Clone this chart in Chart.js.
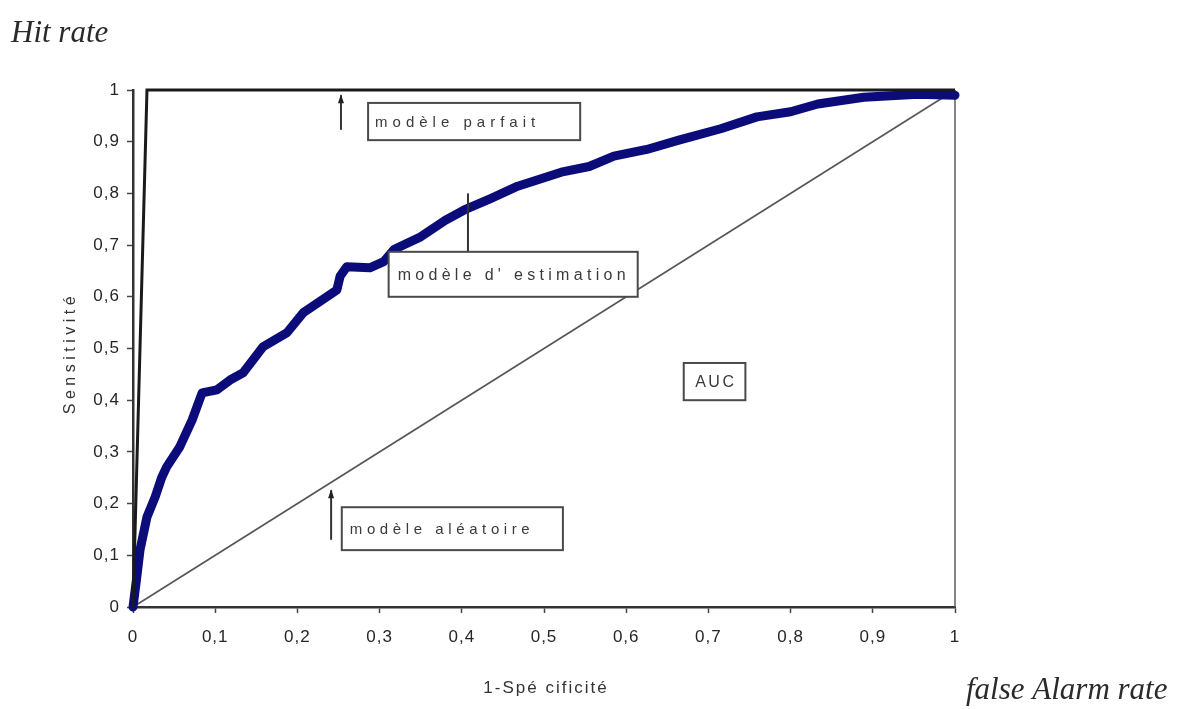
<!DOCTYPE html>
<html>
<head>
<meta charset="utf-8">
<script src="https://cdn.jsdelivr.net/npm/chart.js@4.4.1/dist/chart.umd.min.js"></script>
<style>
  html, body { margin: 0; padding: 0; background: #ffffff; }
  #wrap { position: relative; width: 1184px; height: 709px; }
  canvas { display: block; }
</style>
</head>
<body>
<div id="wrap"><canvas id="c" width="1184" height="709"></canvas></div>
<script>
// ---- data ----
const xTickValues = [0, 0.1, 0.2, 0.3, 0.4, 0.5, 0.6, 0.7, 0.8, 0.9, 1];
const yTickValues = [0, 0.1, 0.2, 0.3, 0.4, 0.5, 0.6, 0.7, 0.8, 0.9, 1];

// ROC curve of the estimation model (1-specificity, sensitivity)
const rocFpr = [0, 0.004, 0.0085, 0.017, 0.027, 0.035, 0.041, 0.057, 0.072, 0.084, 0.102, 0.118, 0.134, 0.158, 0.187, 0.207, 0.248, 0.252, 0.26, 0.288, 0.305, 0.318, 0.35, 0.38, 0.403, 0.435, 0.468, 0.521, 0.555, 0.585, 0.625, 0.664, 0.715, 0.759, 0.80, 0.833, 0.889, 0.955, 1.0];
const rocTpr = [0, 0.05, 0.11, 0.174, 0.213, 0.251, 0.271, 0.31, 0.362, 0.414, 0.42, 0.439, 0.453, 0.503, 0.53, 0.569, 0.613, 0.64, 0.658, 0.656, 0.668, 0.692, 0.716, 0.748, 0.768, 0.79, 0.814, 0.841, 0.852, 0.872, 0.885, 0.903, 0.925, 0.948, 0.958, 0.973, 0.986, 0.992, 0.99];

// perfect model
const perfectX = [0, 0.017, 1];
const perfectY = [0, 1, 1];

// random model
const randomX = [0, 1];
const randomY = [0, 1];

// right frame edge at x = 1
const edgeX = [1, 1];
const edgeY = [0, 1];

// texts
const labelPerfect = "modèle parfait";
const labelEstimation = "modèle d' estimation";
const labelRandom = "modèle aléatoire";
const labelAuc = "AUC";
const yTitle = "Sensitivité";
const xTitle = "1-Spé cificité";
const hitRate = "Hit rate";
const falseAlarm = "false Alarm rate";

const toPts = (xs, ys) => xs.map((x, i) => ({ x: x, y: ys[i] }));
const fmt = v => (Math.round(v * 10) / 10).toString().replace('.', ',');
const SANS = '"Liberation Sans", Arial, sans-serif';
const SERIF = '"Liberation Serif", "Times New Roman", serif';

// annotation boxes, in data coordinates
const boxes = [
  { text: labelPerfect,    x0: 0.286, x1: 0.544, y0: 0.903, y1: 0.975, size: 15, ls: 5.0, pad: 7 },
  { text: labelEstimation, x0: 0.311, x1: 0.614, y0: 0.600, y1: 0.687, size: 16, ls: 4.3, pad: 9 },
  { text: labelRandom,     x0: 0.254, x1: 0.523, y0: 0.110, y1: 0.193, size: 15, ls: 4.6, pad: 8 },
  { text: labelAuc,        x0: 0.670, x1: 0.745, y0: 0.400, y1: 0.472, size: 16, ls: 2.5, pad: 0, center: true }
];
// leader lines / arrows, in data coordinates
const leaders = [
  { x: 0.253, yFrom: 0.923, yTo: 0.99,  arrow: true },
  { x: 0.4075, yFrom: 0.687, yTo: 0.800, arrow: false },
  { x: 0.241, yFrom: 0.130, yTo: 0.226, arrow: true }
];

const annotPlugin = {
  id: 'annot',
  beforeDraw(chart) {
    chart.ctx.letterSpacing = '1px';
  },
  afterDatasetsDraw(chart) {
    const ctx = chart.ctx, xs = chart.scales.x, ys = chart.scales.y;
    ctx.save();
    leaders.forEach(l => {
      const px = xs.getPixelForValue(l.x);
      const pa = ys.getPixelForValue(l.yFrom), pb = ys.getPixelForValue(l.yTo);
      ctx.strokeStyle = '#333'; ctx.lineWidth = 2;
      ctx.beginPath(); ctx.moveTo(px, pa); ctx.lineTo(px, pb); ctx.stroke();
      if (l.arrow) {
        ctx.fillStyle = '#222';
        ctx.beginPath();
        ctx.moveTo(px, pb - 1); ctx.lineTo(px - 3, pb + 8); ctx.lineTo(px + 3, pb + 8);
        ctx.closePath(); ctx.fill();
      }
    });
    boxes.forEach(b => {
      const l = xs.getPixelForValue(b.x0), r = xs.getPixelForValue(b.x1);
      const t = ys.getPixelForValue(b.y1), btm = ys.getPixelForValue(b.y0);
      ctx.fillStyle = '#ffffff';
      ctx.fillRect(l, t, r - l, btm - t);
      ctx.strokeStyle = '#4a4a4a'; ctx.lineWidth = 2;
      ctx.strokeRect(l, t, r - l, btm - t);
      ctx.fillStyle = '#3a3a3a';
      ctx.font = b.size + 'px ' + SANS;
      ctx.letterSpacing = b.ls + 'px';
      ctx.textBaseline = 'middle';
      if (b.center) {
        ctx.textAlign = 'center';
        ctx.fillText(b.text, (l + r) / 2 + b.ls / 2, (t + btm) / 2 + 1);
      } else {
        ctx.textAlign = 'left';
        ctx.fillText(b.text, l + b.pad, (t + btm) / 2 + 1);
      }
    });
    ctx.restore();
  },
  afterDraw(chart) {
    const ctx = chart.ctx, area = chart.chartArea;
    ctx.save();
    ctx.fillStyle = '#333';
    ctx.font = '16px ' + SANS;
    ctx.letterSpacing = '4.5px';
    ctx.textAlign = 'center';
    ctx.textBaseline = 'middle';
    ctx.save();
    ctx.translate(71, 355);
    ctx.rotate(-Math.PI / 2);
    ctx.fillText(yTitle, 2, 0);
    ctx.restore();
    ctx.font = '17px ' + SANS;
    ctx.letterSpacing = '2px';
    ctx.fillText(xTitle, (area.left + area.right) / 2 + 2, 688);
    ctx.letterSpacing = '0px';
    ctx.fillStyle = '#2a2a2a';
    ctx.font = 'italic 31px ' + SERIF;
    ctx.textBaseline = 'alphabetic';
    ctx.textAlign = 'left';
    ctx.fillText(hitRate, 11, 42);
    ctx.fillText(falseAlarm, 966, 699);
    ctx.restore();
    ctx.letterSpacing = '0px';
  }
};

new Chart(document.getElementById('c'), {
  type: 'scatter',
  data: {
    datasets: [
      { data: toPts(randomX, randomY), showLine: true, borderColor: '#555555', borderWidth: 1.6, pointRadius: 0, clip: false, order: 3 },
      { data: toPts(edgeX, edgeY), showLine: true, borderColor: '#666666', borderWidth: 1.6, pointRadius: 0, clip: false, order: 4 },
      { data: toPts(rocFpr, rocTpr), showLine: true, borderColor: '#0b0b7a', borderWidth: 9, borderCapStyle: 'round', borderJoinStyle: 'round', pointRadius: 0, clip: false, order: 2 },
      { data: toPts(perfectX, perfectY), showLine: true, borderColor: '#1a1a1a', borderWidth: 3, pointRadius: 0, clip: false, order: 1 }
    ]
  },
  options: {
    responsive: false,
    animation: false,
    devicePixelRatio: 1,
    layout: { padding: { left: 60, right: 229, top: 90, bottom: 0 } },
    plugins: { legend: { display: false }, tooltip: { enabled: false } },
    scales: {
      x: {
        type: 'linear', min: 0, max: 1,
        afterBuildTicks: s => { s.ticks = xTickValues.map(v => ({ value: v })); },
        afterFit: s => { s.height = 102; },
        grid: { drawOnChartArea: false, drawTicks: true, tickLength: 6, tickColor: '#444', tickWidth: 1.5 },
        border: { display: true, color: '#333', width: 2.5 },
        ticks: { callback: v => fmt(v), color: '#262626', padding: 14, maxRotation: 0, autoSkip: false,
                 font: { family: SANS, size: 17 } },
        title: { display: false }
      },
      y: {
        type: 'linear', min: 0, max: 1,
        afterBuildTicks: s => { s.ticks = yTickValues.map(v => ({ value: v })); },
        afterFit: s => { s.width = 73; },
        grid: { drawOnChartArea: false, drawTicks: true, tickLength: 6, tickColor: '#444', tickWidth: 1.5 },
        border: { display: true, color: '#333', width: 2.5 },
        ticks: { callback: v => fmt(v), color: '#262626', padding: 7, autoSkip: false,
                 font: { family: SANS, size: 17 } },
        title: { display: false }
      }
    }
  },
  plugins: [annotPlugin]
});
</script>
</body>
</html>
